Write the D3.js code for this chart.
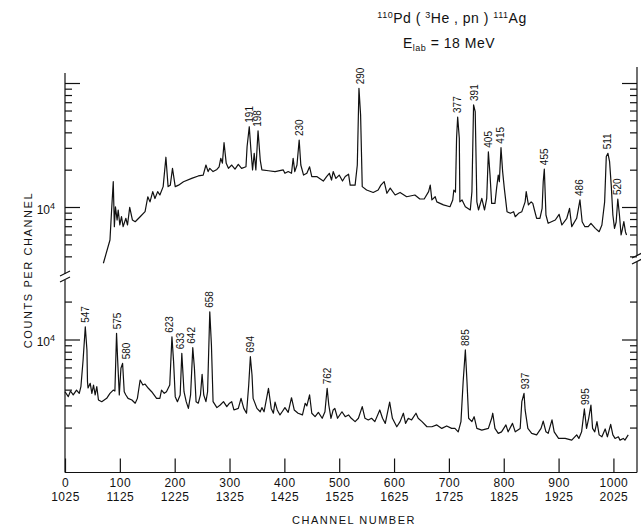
<!DOCTYPE html>
<html>
	<head>
		<title>110Pd(3He,pn)111Ag spectrum</title>

		<style>
		body {
			margin: 0;
			background: #fff;
		}

		svg {
			font-family: "Liberation Sans", Arial, sans-serif;
		}

		.domain {
			display: none;
		}

		.tick line, .frame line {
			stroke: #111;
			stroke-width: 1.2px;
		}

		.tick text {
			fill: #111;
			font-size: 12px;
		}

		.spectrum {
			fill: none;
			stroke: #111;
			stroke-width: 1.2px;
			stroke-linejoin: round;
		}

		.peak {
			font-size: 10px;
			fill: #111;
		}
		</style>

		<script src="https://d3js.org/d3.v7.min.js"></script>
	</head>
	<body>
		<svg id="chart" width="641" height="529"></svg>

		<script>
		// upper panel (channels 0-1024 of first half), counts per channel
		var upperChannels = [70, 82, 85, 88, 90, 92, 95, 97, 100, 103, 106, 111, 114, 118, 123, 128, 137, 146, 151, 155,
			160, 164, 169, 173, 179, 184, 188, 192, 196, 201, 207, 216, 231, 243, 252, 257, 261, 264, 270, 277,
			281, 284, 287, 290, 294, 298, 304, 310, 316, 322, 330, 332, 336, 339, 342, 345, 348, 352, 356, 359,
			371, 383, 398, 401, 407, 413, 416, 419, 423, 427, 430, 435, 441, 446, 450, 459, 471, 477, 482, 486,
			489, 494, 500, 506, 511, 517, 520, 529, 533, 536, 539, 542, 550, 562, 571, 576, 582, 587, 593, 602,
			611, 623, 638, 647, 655, 663, 666, 669, 675, 678, 690, 702, 707, 709, 712, 714, 716, 719, 720, 724,
			730, 739, 742, 745, 748, 751, 754, 760, 765, 769, 772, 775, 778, 784, 787, 790, 792, 795, 798, 801,
			806, 812, 818, 821, 827, 833, 839, 841, 845, 850, 853, 856, 860, 866, 870, 872, 874, 877, 881, 894,
			901, 906, 915, 920, 924, 933, 939, 943, 948, 954, 959, 967, 974, 979, 984, 987, 990, 993, 996, 999,
			1002, 1005, 1008, 1011, 1014, 1016, 1019, 1022, 1024];
		var upperCounts = [3520, 5420, 9460, 16000, 6940, 10050, 7850, 9460, 7160, 8350, 6940, 8110, 7160, 9940, 7850, 7610, 8350, 9170, 12100, 11000,
			13300, 11700, 13300, 12500, 14600, 25200, 14600, 15000, 20500, 14600, 15000, 16000, 17000, 17800, 18100, 21800, 19300, 20500, 19300, 20100,
			21100, 24700, 22600, 33000, 22500, 20500, 21800, 20200, 22100, 20500, 21100, 30600, 44400, 28800, 19900, 27100, 19900, 41200, 23900, 19900,
			19600, 19300, 19900, 18700, 19300, 18700, 24700, 19300, 21800, 34700, 21800, 18100, 18700, 21100, 17600, 17600, 16200, 17600, 18700, 16500,
			19300, 17000, 18100, 16200, 17600, 18400, 15000, 15000, 21800, 90600, 55200, 14600, 13700, 13100, 13700, 15000, 16000, 12900, 14200, 12500,
			13100, 12100, 12500, 11600, 11600, 13300, 15000, 11400, 12100, 11000, 10400, 10050, 11400, 13700, 13200, 35800, 53200, 35800, 11000, 11400,
			10050, 9460, 13300, 66500, 58700, 11000, 9460, 11750, 9460, 11750, 27900, 18100, 10700, 10700, 14200, 18100, 16000, 30100, 19300, 14200,
			9170, 8890, 9170, 8350, 8890, 9170, 11000, 13300, 10400, 11000, 10700, 9460, 8110, 8110, 9760, 16000, 20200, 8620, 7390, 7850,
			8730, 7160, 8110, 9760, 6940, 8110, 11400, 7610, 6940, 6940, 7390, 6730, 6320, 7160, 11000, 25500, 27100, 23200, 15000, 8620,
			6730, 7570, 11600, 8620, 5950, 6520, 7610, 6290, 5950];

		// lower panel (second half, channel + 1025)
		var lowerChannels = [0, 6, 10, 15, 21, 26, 29, 33, 37, 40, 41, 42, 46, 49, 52, 55, 58, 61, 67, 76,
			82, 88, 91, 94, 96, 99, 102, 105, 108, 111, 115, 122, 128, 132, 137, 142, 146, 152, 158, 167,
			173, 176, 181, 185, 191, 195, 198, 201, 205, 210, 213, 217, 221, 225, 229, 233, 236, 239, 243, 247,
			250, 253, 257, 260, 264, 267, 270, 277, 283, 289, 295, 300, 304, 308, 316, 321, 326, 331, 335, 338,
			341, 343, 350, 356, 359, 363, 371, 376, 380, 383, 387, 392, 396, 401, 407, 413, 418, 425, 433, 438,
			441, 446, 450, 456, 462, 469, 474, 478, 481, 485, 489, 492, 497, 505, 511, 517, 522, 529, 535, 542,
			547, 553, 559, 565, 574, 579, 584, 592, 597, 605, 611, 617, 621, 626, 632, 640, 644, 651, 660, 669,
			678, 687, 696, 705, 711, 717, 722, 726, 730, 733, 736, 742, 746, 751, 760, 772, 778, 780, 784, 790,
			796, 804, 808, 816, 821, 830, 833, 837, 839, 844, 851, 860, 868, 872, 877, 881, 888, 892, 900, 912,
			924, 933, 937, 942, 947, 951, 955, 959, 962, 966, 970, 974, 979, 985, 989, 995, 999, 1003, 1009, 1012,
			1018, 1021, 1027];
		var lowerCounts = [3850, 3520, 3900, 3630, 3970, 3740, 4220, 6880, 12600, 8260, 4620, 4120, 4490, 3740, 4350, 3630, 4220, 3310, 3210, 3410,
			3740, 3970, 3900, 11200, 6880, 3630, 5910, 6470, 3850, 3630, 3410, 3310, 3120, 3410, 4770, 4350, 4430, 4100, 3850, 3410,
			3410, 3970, 3740, 3850, 4350, 10500, 6670, 3520, 3210, 3630, 7770, 3850, 3210, 2840, 3630, 8610, 5910, 3210, 3120, 3630,
			5300, 3630, 3210, 3850, 16600, 9040, 3210, 2880, 3020, 3210, 2930, 3120, 3210, 2760, 2840, 3410, 2840, 2600, 4350, 7300,
			5230, 3410, 2840, 2670, 2880, 2670, 4100, 2840, 2600, 3180, 2760, 2520, 2670, 2880, 2640, 3450, 2760, 2600, 2520, 3120,
			2970, 3630, 2600, 2440, 2640, 2370, 2670, 4100, 3020, 2370, 2760, 2840, 2370, 2670, 2440, 2520, 2370, 2230, 2370, 2930,
			2370, 2300, 2370, 2230, 2760, 2370, 2160, 3180, 2370, 2030, 2230, 2600, 2160, 2370, 2300, 2600, 2370, 2230, 2030, 2030,
			2100, 1970, 2060, 1970, 1970, 1850, 2230, 4620, 8260, 4620, 2370, 2230, 2440, 1970, 1910, 1970, 2370, 2600, 1970, 1800,
			1850, 2100, 1850, 2160, 1850, 1970, 3210, 3740, 2760, 1970, 1800, 1750, 1970, 2250, 1850, 1800, 2300, 1850, 1640, 1640,
			1590, 1750, 1640, 1850, 2810, 1970, 2380, 3020, 1970, 1850, 2230, 1750, 1690, 1950, 1690, 2120, 1750, 1640, 1690, 1590,
			1640, 1590, 1750];

		// gamma energies (keV) marked on peaks, and the channel each label sits at
		var upperPeakEnergies = [191, 198, 230, 290, 377, 391, 405, 415, 455, 486, 511, 520];
		var upperPeakChannels = [337, 351, 427, 538, 716, 746, 772, 795, 875, 939, 989, 1008];
		var lowerPeakEnergies = [547, 575, 580, 623, 633, 642, 658, 694, 762, 885, 937, 995];
		var lowerPeakChannels = [38, 95, 112, 190, 210, 231, 263, 339, 478, 730, 840, 950];

		var channelTicks = [100, 200, 300, 400, 500, 600, 700, 800, 900, 1000, 0];
		var channelTickLabels = ['100', '200', '300', '400', '500', '600', '700', '800', '900', '1000', '0'];
		var secondRowLabels = ['1125', '1225', '1325', '1425', '1525', '1625', '1725', '1825', '1925', '2025', '1025'];

		var upperMinorTicks = [4e3, 5e3, 6e3, 7e3, 8e3, 9e3, 2e4, 3e4, 4e4, 5e4, 6e4, 7e4, 8e4, 9e4];
		var upperMajorTicks = [1e4, 1e5];
		var lowerMinorTicks = [2e3, 3e3, 4e3, 5e3, 6e3, 7e3, 8e3, 9e3, 2e4];
		var lowerMajorTicks = [1e4];

		var svg = d3.select('#chart');

		var left = 65, right = 637, bottom = 472.5;
		var leftBreak = 277, rightBreak = 259;

		var x = d3.scaleLinear().domain([0, 1043]).range([left, right]);
		var yUpper = d3.scaleLog().domain([1e4, 1e5]).range([207, 83]);
		var yLower = d3.scaleLog().domain([1e3, 1e4]).range([465.5, 339.5]);

		function zip (chs, counts) {
			return chs.map(function (c, i) { return [c, counts[i]]; });
		}

		var upper = zip(upperChannels, upperCounts);
		var lower = zip(lowerChannels, lowerCounts);

		// frame: axis lines with a break between the two halves
		var frame = svg.append('g').attr('class', 'frame');

		[[left, 73, left, leftBreak - 3], [left, leftBreak + 3, left, bottom],
			[right, 67, right, rightBreak - 3], [right, rightBreak + 3, right, bottom],
			[left, bottom, right, bottom]
		].forEach(function (s) {
			frame.append('line').attr('x1', s[0]).attr('y1', s[1]).attr('x2', s[2]).attr('y2', s[3]);
		});

		[[left, leftBreak], [right, rightBreak]].forEach(function (b) {
			frame.append('line').attr('x1', b[0] - 5).attr('y1', b[1] - 1).attr('x2', b[0] + 5).attr('y2', b[1] - 6);
			frame.append('line').attr('x1', b[0] - 5).attr('y1', b[1] + 5).attr('x2', b[0] + 5).attr('y2', b[1]);
		});

		function sideAxes (scale, minor, major) {
			svg.append('g')
				.attr('transform', 'translate(' + left + ',0)')
				.call(d3.axisLeft(scale).tickValues(minor).tickSize(-7).tickFormat(''));

			var g = svg.append('g')
				.attr('transform', 'translate(' + left + ',0)')
				.call(d3.axisLeft(scale).tickValues(major).tickSize(-15).tickPadding(10)
					.tickFormat(function (d) { return d === 1e4 ? '10' : ''; }));

			g.selectAll('text')
				.filter(function (d) { return d === 1e4; })
				.attr('dy', '0.5em')
				.append('tspan')
				.attr('dy', '-0.55em')
				.attr('font-size', '9px')
				.text('4');

			svg.append('g')
				.attr('transform', 'translate(' + right + ',0)')
				.call(d3.axisRight(scale).tickValues(minor).tickSize(-7).tickFormat(''));

			svg.append('g')
				.attr('transform', 'translate(' + right + ',0)')
				.call(d3.axisRight(scale).tickValues(major).tickSize(-15).tickFormat(''));
		}

		sideAxes(yUpper, upperMinorTicks, upperMajorTicks);
		sideAxes(yLower, lowerMinorTicks, lowerMajorTicks);

		var xAxis = svg.append('g')
			.attr('transform', 'translate(0,' + bottom + ')')
			.call(d3.axisBottom(x).tickValues(channelTicks).tickSize(-14).tickSizeOuter(0).tickPadding(6)
				.tickFormat(function (d, i) { return channelTickLabels[i]; }));

		xAxis.selectAll('.tick text')
			.style('letter-spacing', '0.5px')
			.append('tspan')
			.attr('x', 0)
			.attr('dy', '1.15em')
			.text(function (d, i) { return secondRowLabels[i]; });

		// spectra
		function drawSpectrum (data, scale) {
			var line = d3.line()
				.x(function (d) { return x(d[0]); })
				.y(function (d) { return scale(d[1]); });

			svg.append('path').datum(data).attr('class', 'spectrum').attr('d', line);
		}

		drawSpectrum(upper, yUpper);
		drawSpectrum(lower, yLower);

		function peakLabels (data, scale, energies, chans) {
			energies.forEach(function (e, i) {
				var c = chans[i];
				var top = d3.max(data.filter(function (d) { return Math.abs(d[0] - c) <= 8; }), function (d) { return d[1]; });
				var px = x(c), py = scale(top) - 4;

				svg.append('text')
					.attr('class', 'peak')
					.attr('transform', 'translate(' + px + ',' + py + ') rotate(-90)')
					.attr('dy', '0.35em')
					.text(e);
			});
		}

		peakLabels(upper, yUpper, upperPeakEnergies, upperPeakChannels);
		peakLabels(lower, yLower, lowerPeakEnergies, lowerPeakChannels);

		// titles
		var t1 = svg.append('text').attr('x', 452).attr('y', 23).attr('text-anchor', 'middle')
			.attr('font-size', '14px').attr('fill', '#111').style('letter-spacing', '0.5px');
		t1.append('tspan').attr('font-size', '9px').attr('dy', -5).text('110');
		t1.append('tspan').attr('dy', 5).text('Pd ( ');
		t1.append('tspan').attr('font-size', '9px').attr('dy', -5).text('3');
		t1.append('tspan').attr('dy', 5).text('He  ,  pn ) ');
		t1.append('tspan').attr('font-size', '9px').attr('dy', -5).text('111');
		t1.append('tspan').attr('dy', 5).text('Ag');

		var t2 = svg.append('text').attr('x', 449).attr('y', 48).attr('text-anchor', 'middle')
			.attr('font-size', '14px').attr('fill', '#111').style('letter-spacing', '0.5px');
		t2.append('tspan').text('E');
		t2.append('tspan').attr('font-size', '9px').attr('dy', 3).text('lab');
		t2.append('tspan').attr('dy', -3).text(' = 18  MeV');

		svg.append('text')
			.attr('transform', 'translate(32,270) rotate(-90)')
			.attr('text-anchor', 'middle')
			.attr('font-size', '11px')
			.attr('fill', '#111')
			.style('letter-spacing', '1.6px')
			.text('COUNTS PER CHANNEL');

		svg.append('text')
			.attr('x', 354)
			.attr('y', 524)
			.attr('text-anchor', 'middle')
			.attr('font-size', '11px')
			.attr('fill', '#111')
			.style('letter-spacing', '1.5px')
			.text('CHANNEL NUMBER');
		</script>
	</body>
</html>
